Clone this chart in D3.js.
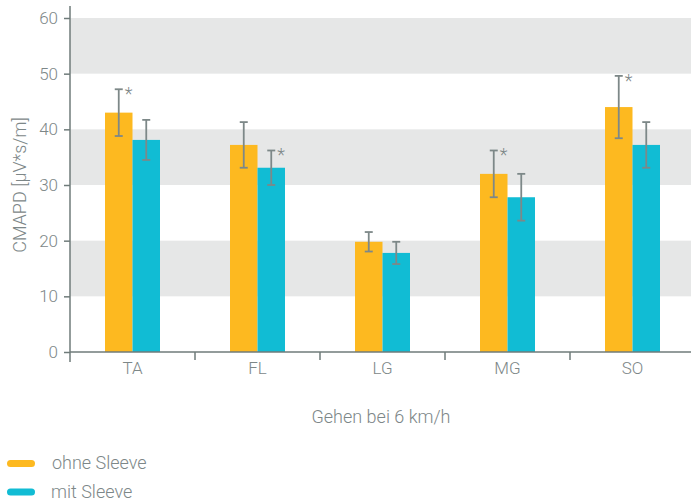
<!DOCTYPE html>
<html><head><meta charset="utf-8">
<script src="https://cdn.jsdelivr.net/npm/d3@7"></script>
<style>
body{margin:0;background:#fff;}
text{font-family:Roboto, "DejaVu Sans", sans-serif;font-weight:300;fill:#7d8788;}
</style></head>
<body><svg id="c" width="691" height="502"></svg>
<script>
const categories = ["TA","FL","LG","MG","SO"];
const seriesNames = ["ohne Sleeve","mit Sleeve"];
const ohneValues = [43.0, 37.2, 19.8, 32.0, 44.0];
const ohneErr    = [4.2, 4.1, 1.75, 4.2, 5.6];
const mitValues  = [38.1, 33.1, 17.8, 27.8, 37.2];
const mitErr     = [3.6, 3.1, 2.0, 4.2, 4.1];
const ohneSig = [true, false, false, true, true];
const mitSig  = [false, true, false, false, false];
const yTicks = [0,10,20,30,40,50,60];
const bandRanges = [[10,20],[30,40],[50,60]];
const colors = ["#fdb920","#11bcd4"];

const svg = d3.select("#c");
const x0 = 70, x1 = 695, yTop = 18, yBot = 352;
const x = d3.scaleBand().domain(categories).range([x0, x1]).paddingInner(0).paddingOuter(0);
const y = d3.scaleLinear().domain([0,60]).range([yBot, yTop]);
const sub = d3.scaleBand().domain(seriesNames).range([0, 55]);
const pairOffset = (x.bandwidth() - 55) / 2;
const txt = "#858e8f";

// bands
svg.append("g").selectAll("rect").data(bandRanges).join("rect")
  .attr("x", x0).attr("width", 691 - x0)
  .attr("y", d => y(d[1])).attr("height", d => y(d[0]) - y(d[1]))
  .attr("fill", "#e6e7e7");

const series = [
  {name: seriesNames[0], vals: ohneValues, err: ohneErr, sig: ohneSig, color: colors[0]},
  {name: seriesNames[1], vals: mitValues, err: mitErr, sig: mitSig, color: colors[1]}
];

const items = [];
series.forEach(s => categories.forEach((c, i) => items.push({c, s, v: s.vals[i], e: s.err[i], sig: s.sig[i]})));

const bx = d => x(d.c) + pairOffset + sub(d.s.name);
svg.append("g").selectAll("rect").data(items).join("rect")
  .attr("x", bx).attr("width", sub.bandwidth())
  .attr("y", d => y(d.v)).attr("height", d => y(0) - y(d.v))
  .attr("fill", d => d.s.color);

const eg = svg.append("g").attr("stroke", "#7d8888").attr("stroke-width", 1.8);
items.forEach(d => {
  const cx = bx(d) + sub.bandwidth() / 2;
  eg.append("line").attr("x1", cx).attr("x2", cx).attr("y1", y(d.v + d.e)).attr("y2", y(d.v - d.e));
  eg.append("line").attr("x1", cx - 4).attr("x2", cx + 4).attr("y1", y(d.v + d.e)).attr("y2", y(d.v + d.e));
  eg.append("line").attr("x1", cx - 4).attr("x2", cx + 4).attr("y1", y(d.v - d.e)).attr("y2", y(d.v - d.e));
  if (d.sig) {
    svg.append("text").attr("x", cx + 6).attr("y", y(d.v + d.e) + 11)
      .attr("font-size", 18).attr("fill", txt).text("*");
  }
});

// axes
const axisColor = "#6f7b7a";
const ya = svg.append("g").attr("transform", `translate(${x0},0)`)
  .call(d3.axisLeft(y).tickValues(yTicks).tickSize(6).tickPadding(6));
ya.select(".domain").remove();
ya.selectAll("line").attr("stroke", axisColor).attr("stroke-width", 1.5);
ya.selectAll("text").attr("font-size", 17).attr("fill", txt)
  .style("font-family", "Roboto, sans-serif").style("font-weight", 300);
svg.append("line").attr("x1", x0).attr("x2", x0).attr("y1", 6).attr("y2", 362)
  .attr("stroke", axisColor).attr("stroke-width", 1.5);
svg.append("line").attr("x1", x0).attr("x2", 691).attr("y1", yBot).attr("y2", yBot)
  .attr("stroke", axisColor).attr("stroke-width", 1.5);

// category boundary ticks
svg.append("g").selectAll("line").data(categories.slice(1)).join("line")
  .attr("x1", d => x(d)).attr("x2", d => x(d)).attr("y1", yBot).attr("y2", yBot + 8)
  .attr("stroke", axisColor).attr("stroke-width", 1.5);

svg.append("g").selectAll("text").data(categories).join("text")
  .attr("x", d => x(d) + x.bandwidth() / 2).attr("y", 374)
  .attr("text-anchor", "middle").attr("font-size", 17).attr("fill", txt)
  .text(d => d);

svg.append("text").attr("transform", `translate(26,${(yTop + yBot) / 2}) rotate(-90)`)
  .attr("text-anchor", "middle").attr("font-size", 18).attr("fill", txt)
  .text("CMAPD [µV*s/m]");

svg.append("text").attr("x", 381).attr("y", 423).attr("text-anchor", "middle")
  .attr("font-size", 18).attr("fill", txt).text("Gehen bei 6 km/h");

// legend
const lg = svg.append("g");
series.forEach((s, i) => {
  const ly = 463.5 + i * 28.5;
  lg.append("rect").attr("x", 7).attr("y", ly - 3.5).attr("width", 28).attr("height", 7)
    .attr("rx", 3.5).attr("fill", s.color);
  lg.append("text").attr("x", i === 0 ? 52 : 51).attr("y", ly + 5.5)
    .attr("font-size", 18).attr("fill", txt).text(s.name);
});
</script></body></html>
